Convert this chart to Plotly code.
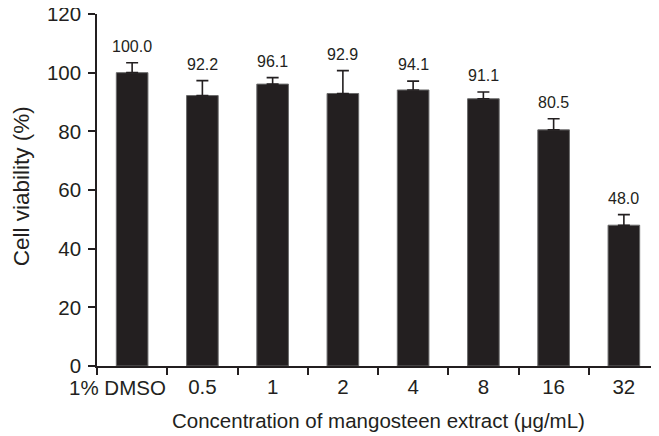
import plotly.graph_objects as go

categories = ["1% DMSO", "0.5", "1", "2", "4", "8", "16", "32"]
tick_labels = ["", "0.5", "1", "2", "4", "8", "16", "32"]
first_label = "1% DMSO"
viability = [100.0, 92.2, 96.1, 92.9, 94.1, 91.1, 80.5, 48.0]
errors = [3.4, 5.1, 2.2, 7.8, 3.0, 2.3, 3.8, 3.6]
value_labels = ["100.0", "92.2", "96.1", "92.9", "94.1", "91.1", "80.5", "48.0"]
y_ticks = [0, 20, 40, 60, 80, 100, 120]
x_title = "Concentration of mangosteen extract (\u03bcg/mL)"
y_title = "Cell viability (%)"

FONT = "Liberation Sans, Arial, sans-serif"
INK = "#231f20"

fig = go.Figure()
fig.add_trace(go.Bar(
    x=categories, y=viability, width=0.45,
    marker=dict(color=INK, line=dict(color="#6a6a6a", width=1)),
    error_y=dict(type="data", array=errors, symmetric=False, arrayminus=[0]*len(errors),
                 color=INK, thickness=1.6, width=6),
    showlegend=False, hoverinfo="skip",
))

for i, (v, e, t) in enumerate(zip(viability, errors, value_labels)):
    fig.add_annotation(x=i, y=v + e, xref="x", yref="y", text=t, showarrow=False,
                       yanchor="bottom", yshift=6,
                       font=dict(family=FONT, size=16, color=INK))

# first category label, nudged left as in the reference
fig.add_annotation(x=0, y=-0.06, xref="x", yref="paper", text=first_label,
                   showarrow=False, xanchor="center", yanchor="middle", xshift=-15,
                   font=dict(family=FONT, size=20.5, color=INK))

fig.add_annotation(x=0.5, y=-0.156, xref="paper", yref="paper", text=x_title,
                   showarrow=False, xanchor="center", yanchor="middle",
                   font=dict(family=FONT, size=20.5, color=INK))
fig.add_annotation(x=-0.135, y=0.511, xref="paper", yref="paper", text=y_title,
                   showarrow=False, xanchor="center", yanchor="middle", textangle=-90,
                   font=dict(family=FONT, size=22.5, color=INK))

fig.update_layout(
    width=651, height=428,
    margin=dict(l=89, r=0, t=6, b=70),
    paper_bgcolor="white", plot_bgcolor="white",
    font=dict(family=FONT, color=INK),
    bargap=0.55,
)
fig.update_xaxes(
    type="category", range=[-0.5, 7.5], tickangle=0, automargin=False,
    tickmode="array", tickvals=categories, ticktext=tick_labels,
    showline=True, linecolor=INK, linewidth=1.5,
    ticks="outside", tickson="boundaries", ticklen=7, tickwidth=1.5, tickcolor=INK,
    tickfont=dict(family=FONT, size=20.5, color=INK), ticklabelstandoff=2,
    ticklabeloverflow="allow",
    showgrid=False, zeroline=False,
)
fig.update_yaxes(
    range=[0, 120], tickvals=y_ticks, automargin=False,
    showline=True, linecolor=INK, linewidth=1.5,
    ticks="outside", ticklen=7, tickwidth=1.5, tickcolor=INK,
    tickfont=dict(family=FONT, size=20.5, color=INK), ticklabelstandoff=3,
    ticklabeloverflow="allow",
    showgrid=False, zeroline=False,
)

fig.write_html("out.html")
